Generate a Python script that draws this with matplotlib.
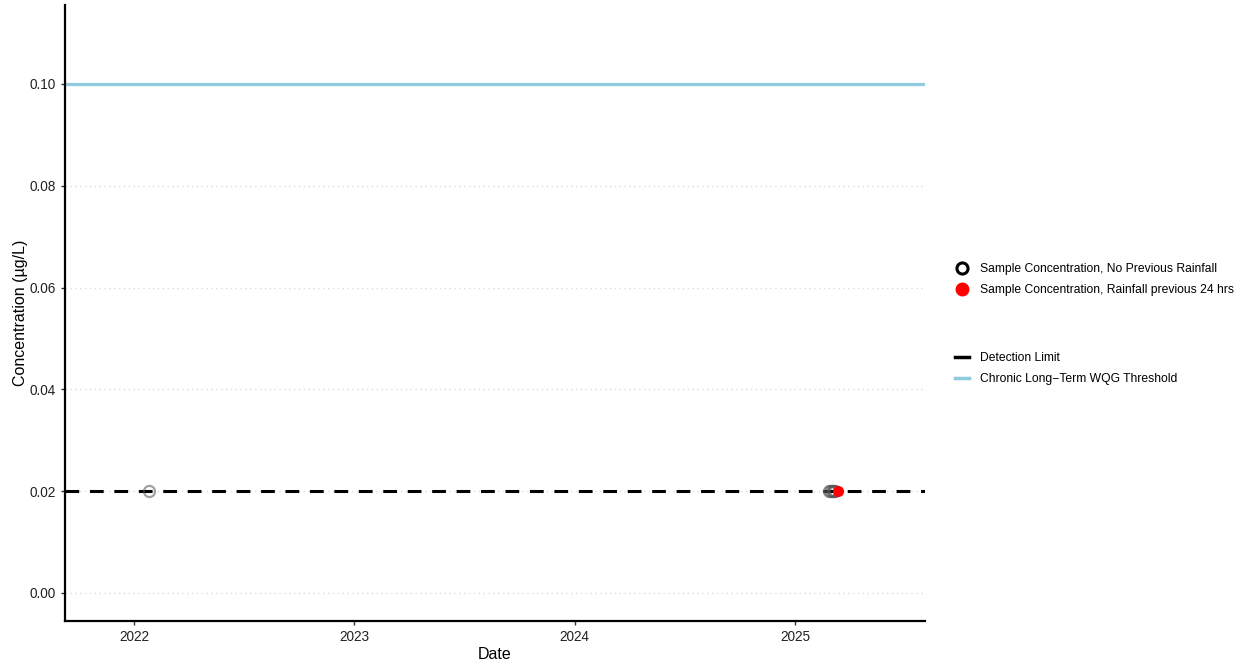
import matplotlib
matplotlib.use("Agg")
import matplotlib.pyplot as plt
from matplotlib.lines import Line2D
import pandas as pd

plt.rcParams["font.family"] = ["Liberation Sans", "DejaVu Sans"]

# Sample results
dry_dates = ["2022-01-25", "2025-02-26", "2025-02-28", "2025-03-02",
             "2025-03-04", "2025-03-06", "2025-03-08"]
dry_conc = [0.02, 0.02, 0.02, 0.02, 0.02, 0.02, 0.02]
wet_dates = ["2025-03-13"]
wet_conc = [0.02]

detection_limit = 0.02
wqg_threshold = 0.10

y_ticks = [0.00, 0.02, 0.04, 0.06, 0.08, 0.10]
x_tick_years = ["2022", "2023", "2024", "2025"]

dry_x = pd.to_datetime(dry_dates)
wet_x = pd.to_datetime(wet_dates)

fig = plt.figure(figsize=(12.5, 6.64), dpi=100)
ax = fig.add_axes([0.052, 0.0648, 0.688, 0.9277])

for y in y_ticks:
    ax.axhline(y, color="#dcdcdc", lw=1.0, ls=(0, (1, 2.5)), zorder=0)

ax.axhline(wqg_threshold, color="#8ecbdf", lw=2.3, zorder=1)
ax.axhline(detection_limit, color="black", lw=2.2, ls=(0, (4.5, 3.5)), zorder=2)

ax.plot(dry_x, dry_conc, ls="none", marker="o", ms=8, mfc="none",
        mec="#555555", mew=1.6, alpha=0.55, zorder=3)
ax.plot(wet_x, wet_conc, ls="none", marker="o", ms=7, mfc="red",
        mec="red", alpha=1.0, zorder=4)

ax.set_xlim(pd.Timestamp("2021-09-08"), pd.Timestamp("2025-08-04"))
ax.set_ylim(-0.0055, 0.1155)
ax.set_yticks(y_ticks)
ax.set_yticklabels([f"{v:.2f}" for v in y_ticks])
ax.set_xticks(pd.to_datetime([f"{y}-01-01" for y in x_tick_years]))
ax.set_xticklabels(x_tick_years)

for s in ["top", "right"]:
    ax.spines[s].set_visible(False)
for s in ["left", "bottom"]:
    ax.spines[s].set_linewidth(1.6)
    ax.spines[s].set_color("black")

ax.tick_params(axis="both", labelsize=9.8, colors="#333333", length=3, width=1)
ax.tick_params(axis="both", labelcolor="#222222")
ax.set_xlabel("Date", fontsize=11.5, labelpad=2)
ax.set_ylabel("Concentration (µg/L)", fontsize=11.5, labelpad=1)

pts = [
    Line2D([], [], ls="none", marker="o", ms=8, mfc="none", mec="black", mew=2.2),
    Line2D([], [], ls="none", marker="o", ms=9, mfc="red", mec="red"),
]
fig.legend(pts, ["Sample Concentration, No Previous Rainfall",
                 "Sample Concentration, Rainfall previous 24 hrs"],
           loc="center left", bbox_to_anchor=(0.755, 0.579), frameon=False,
           fontsize=8.7, handlelength=1.2, handletextpad=0.9, labelspacing=0.75)

lines = [
    Line2D([], [], color="black", lw=2.5),
    Line2D([], [], color="#8ecbdf", lw=2.5),
]
fig.legend(lines, ["Detection Limit", "Chronic Long\u2212Term WQG Threshold"],
           loc="center left", bbox_to_anchor=(0.755, 0.445), frameon=False,
           fontsize=8.7, handlelength=1.2, handletextpad=0.9, labelspacing=0.75)

fig.savefig("out.png", dpi=100, facecolor="white")
